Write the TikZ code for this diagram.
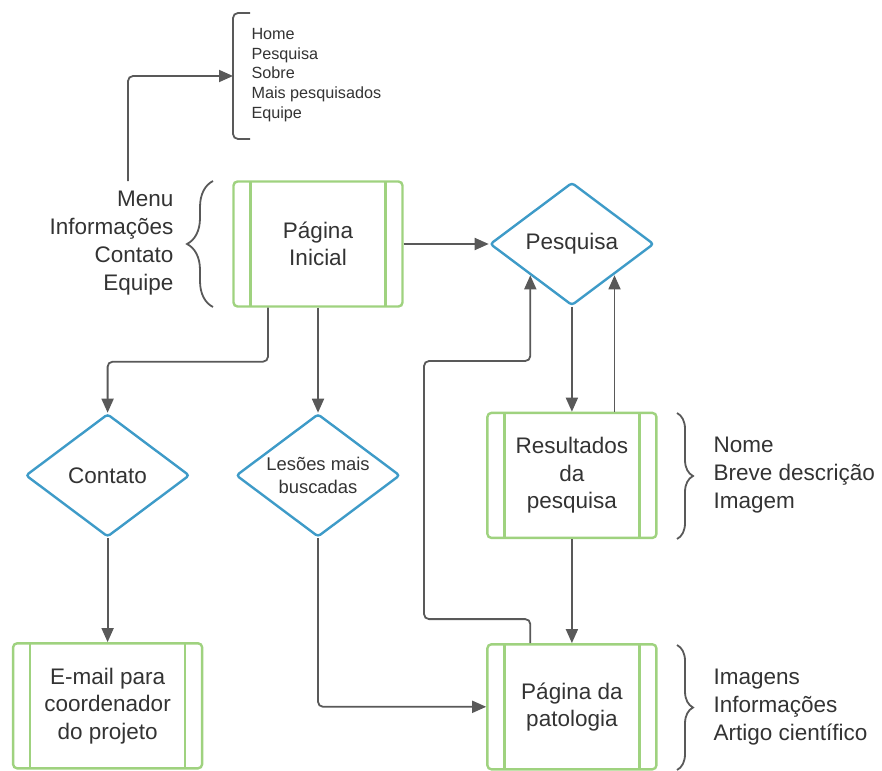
\documentclass[tikz,border=0pt]{standalone}
\usepackage{fontspec}
\setmainfont{Liberation Sans}
\usepackage{tikz}
\usetikzlibrary{positioning,shapes.geometric,arrows.meta,decorations.pathreplacing}

\definecolor{pagegreen}{HTML}{9FD27F}
\definecolor{choiceblue}{HTML}{3E9BC8}
\definecolor{linegray}{HTML}{595959}
\definecolor{textgray}{HTML}{333333}

\tikzset{
    page/.style={rectangle, draw=pagegreen, line width=2.4pt, rounded corners=4pt,
        minimum width=169pt, minimum height=125pt, align=center, text=textgray,
        font=\fontsize{22.5}{27.5}\selectfont,
        path picture={
            \draw[pagegreen, line width=2.4pt]
                ([xshift=17pt]path picture bounding box.north west) -- ([xshift=17pt]path picture bounding box.south west)
                ([xshift=-17pt]path picture bounding box.north east) -- ([xshift=-17pt]path picture bounding box.south east);
        }},
    choice/.style={diamond, aspect=1.33, draw=choiceblue, line width=2.4pt, rounded corners=3pt,
        inner sep=0pt, minimum width=164pt, minimum height=123pt, align=center,
        text=textgray, font=\fontsize{22.5}{27.5}\selectfont},
    flow/.style={draw=linegray, line width=1.8pt, rounded corners=5pt,
        -{Triangle[length=14pt,width=12pt]}},
    curly/.style={draw=linegray, line width=1.8pt, decorate,
        decoration={brace, amplitude=#1}},
    notes/.style={align=left, text=textgray, font=\fontsize{22.5}{28}\selectfont}
}

\begin{document}
\begin{tikzpicture}[x=1pt, y=-1pt]
    \useasboundingbox (0,0) rectangle (882,770);

    % pages and choices
    \node[page] (inicial) at (318,244) {Página\\Inicial};
    \node[choice, right=85pt of inicial] (pesquisa) {Pesquisa};
    \node[page, below=105pt of pesquisa] (resultados) {Resultados\\da\\pesquisa};
    \node[page, below=104pt of resultados] (patologia) {Página da\\patologia};
    \node[choice, below=105pt of inicial, font=\fontsize{18.4}{22.5}\selectfont] (lesoes) {Lesões mais\\buscadas};
    \node[choice, left=44pt of lesoes] (contato) {Contato};
    \node[page, below=104pt of contato, minimum width=189pt] (email) {E-mail para\\coordenador\\do projeto};

    % side notes
    \node[notes, align=right, anchor=east] (menu) at (177,243) {Menu\\Informações\\Contato\\Equipe};
    \node[notes, anchor=west, font=\fontsize{16.2}{19.6}\selectfont] (itens) at (248,75) {Home\\Pesquisa\\Sobre\\Mais pesquisados\\Equipe};
    \node[notes, anchor=west] (campos) at (710,475) {Nome\\Breve descrição\\Imagem};
    \node[notes, anchor=west] (conteudo) at (710,707) {Imagens\\Informações\\Artigo científico};

    % braces
    \draw[curly=26pt] (213,307) -- (213,181);
    \draw[curly=16pt] (677,413) -- (677,539);
    \draw[curly=16pt] (677,645) -- (677,770);
    \draw[draw=linegray, line width=1.8pt, rounded corners=5pt] (250,13) -- (233,13) -- (233,139) -- (250,139);
    \coordinate (menutop) at (128,181);
    \coordinate (itensbar) at (233,76);

    % connectors
    \draw[flow] (menutop) |- (itensbar);
    \draw[flow] (inicial) -- (pesquisa);
    \draw[flow] ([xshift=-50pt]inicial.south) -- ++(0,54) -| (contato.north);
    \draw[flow] (inicial.south -| lesoes.north) -- (lesoes.north);
    \draw[flow] (contato) -- (email);
    \draw[flow] (lesoes.south) |- (patologia.west);
    \draw[flow] (pesquisa.south) -- (resultados.north);
    \draw[flow] ([xshift=1pt]pesquisa.south east |- resultados.north) -- ([xshift=1pt]pesquisa.south east);
    \draw[flow] (resultados.south) -- (patologia.north);
    \draw[flow] (pesquisa.south west |- patologia.north) -- ++(0,-24) -| (424,361) -| (pesquisa.south west);
\end{tikzpicture}
\end{document}
